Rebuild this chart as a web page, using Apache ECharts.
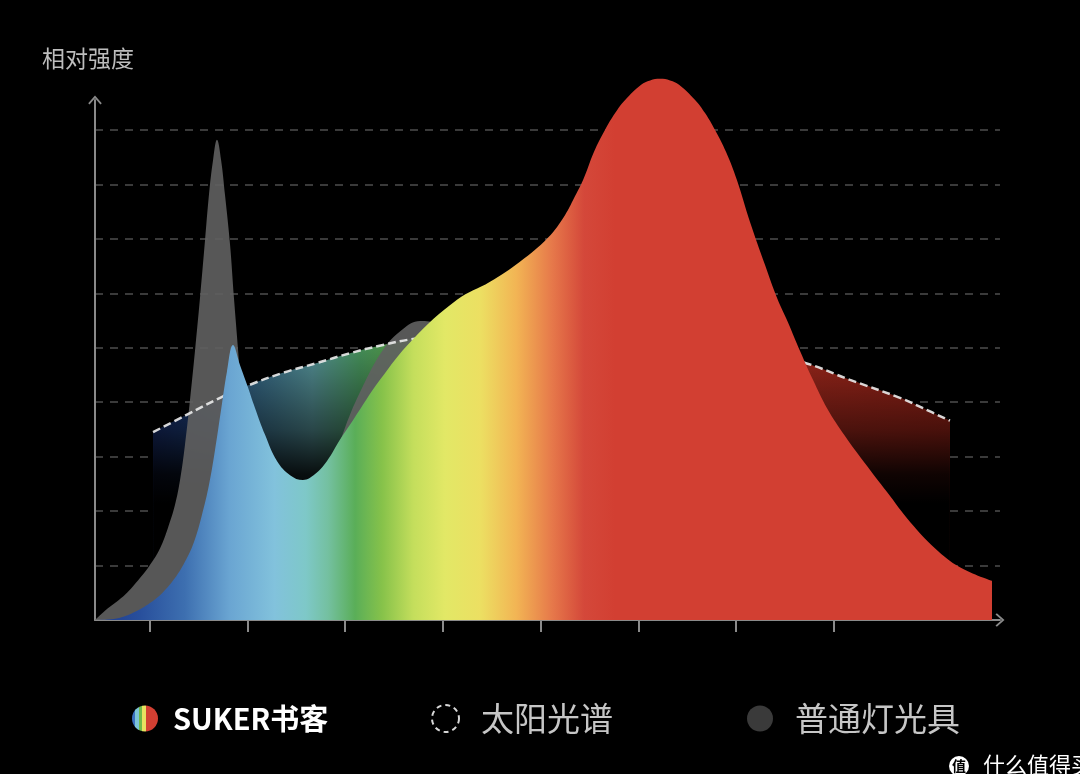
<!DOCTYPE html>
<html>
<head>
<meta charset="utf-8">
<script src="https://cdn.jsdelivr.net/npm/echarts@6/dist/echarts.min.js"></script>
<style>
html,body{margin:0;padding:0;background:#000;}
#chart{width:1080px;height:774px;}
</style>
</head>
<body>
<div id="chart"></div>
<script>
// x: wavelength (nm), y: relative intensity
const tickNm = [400, 450, 500, 550, 600, 650, 700, 750];

const sukerNm  = [372, 378, 384.8, 392.5, 400.1, 406.8, 412.9, 418.0, 422.6, 426.7, 430.3, 433.4, 436.5, 439.5, 442.6, 446.2, 449.8, 453.9, 459.0, 465.1, 471.8, 478.4, 484.6, 490.7, 497.3, 504.0, 517.8, 534.2, 557.2, 574.1, 589.4, 603.7, 612.5, 617.1, 621.7, 627.3, 632.9, 638.1, 643.2, 651.4, 656.0, 661.1, 666.2, 670.8, 679.0, 684.1, 689.2, 694.8, 700.4, 707.1, 714.8, 721.0, 726.5, 732.7, 739.3, 746.5, 755.7, 765.9, 777.2, 789.0, 801.7, 814.5, 830.9];
const sukerVal = [0, 0.01, 0.04, 0.15, 0.31, 0.51, 0.77, 1.07, 1.43, 1.93, 2.48, 3.12, 3.86, 4.56, 5.05, 4.68, 4.32, 3.89, 3.40, 2.92, 2.66, 2.57, 2.68, 2.92, 3.31, 3.67, 4.41, 5.14, 5.88, 6.21, 6.58, 7.02, 7.44, 7.75, 8.08, 8.60, 9.00, 9.31, 9.55, 9.83, 9.91, 9.94, 9.91, 9.83, 9.55, 9.31, 9.00, 8.60, 8.08, 7.31, 6.52, 5.91, 5.47, 4.94, 4.41, 3.89, 3.38, 2.88, 2.35, 1.80, 1.32, 0.97, 0.72];

const sunNm  = [401.7, 418.0, 436.0, 451.3, 468.2, 485.6, 502.5, 519.3, 534.7, 569.0, 609.9, 650.8, 691.8, 733.7, 758.3, 783.8, 795.6, 809.4];
const sunVal = [3.45, 3.75, 4.08, 4.32, 4.54, 4.72, 4.90, 5.05, 5.16, 5.29, 5.36, 5.29, 5.11, 4.74, 4.41, 4.08, 3.89, 3.66];

const grayNm  = [372, 377.1, 382.2, 388.4, 395.0, 400.1, 405.3, 409.3, 412.9, 415.5, 418.0, 420.6, 423.2, 425.7, 428.3, 430.3, 432.4, 434.4, 436.5, 438.5, 441.1, 443.1, 445.2, 447.2, 449.8, 453.9, 461.5, 472.8, 483.5, 492.2, 499.9, 508.6, 519.3, 529.1, 538.3, 547.5, 556.2, 569.0, 594.5, 630.4, 681.5, 732.7, 773.6, 809.4, 830.9];
const grayVal = [0, 0.17, 0.31, 0.50, 0.77, 1.01, 1.32, 1.69, 2.11, 2.57, 3.21, 4.04, 4.96, 5.91, 6.98, 7.81, 8.45, 8.82, 8.45, 7.81, 6.89, 5.91, 4.96, 3.95, 2.94, 2.02, 1.38, 1.18, 1.75, 2.66, 3.53, 4.26, 4.96, 5.33, 5.49, 5.44, 5.24, 4.78, 4.04, 3.49, 2.76, 1.84, 0.92, 0.37, 0.15];

const NAME_SUKER = 'SUKER书客';
const NAME_SUN = '太阳光谱';
const NAME_GRAY = '普通灯光具';

const zip = (xs, ys) => xs.map((x, i) => [x, ys[i]]);
const FONT = 'Noto Sans CJK SC';
const G = echarts.graphic.LinearGradient;

const sukerFill = new G(0, 0, 1, 0, [
  {offset: 0, color: '#1e3a8c'},
  {offset: 0.05, color: '#284f9c'},
  {offset: 0.10, color: '#3d6fb0'},
  {offset: 0.15, color: '#6aa5d2'},
  {offset: 0.20, color: '#82c2dc'},
  {offset: 0.235, color: '#7ec8c8'},
  {offset: 0.26, color: '#74c0a0'},
  {offset: 0.29, color: '#5aae58'},
  {offset: 0.32, color: '#86c24a'},
  {offset: 0.355, color: '#c4de5c'},
  {offset: 0.39, color: '#e2e866'},
  {offset: 0.43, color: '#ecdf62'},
  {offset: 0.47, color: '#f2b454'},
  {offset: 0.51, color: '#e6784a'},
  {offset: 0.545, color: '#d4483a'},
  {offset: 0.58, color: '#d23f32'},
  {offset: 1, color: '#d23f32'}
]);

const sunHue = new G(0, 0, 1, 0, [
  {offset: 0, color: '#1a3278'},
  {offset: 0.08, color: '#24508a'},
  {offset: 0.13, color: '#3a7090'},
  {offset: 0.20, color: '#5a9aa0'},
  {offset: 0.26, color: '#4a9a60'},
  {offset: 0.32, color: '#5aa040'},
  {offset: 0.45, color: '#c0b040'},
  {offset: 0.6, color: '#c04a28'},
  {offset: 0.8, color: '#a82a1e'},
  {offset: 1, color: '#a02418'}
]);

const sunFade = new G(0, 0, 0, 1, [
  {offset: 0, color: 'rgba(0,0,0,0)'},
  {offset: 0.1, color: 'rgba(0,0,0,0.15)'},
  {offset: 0.35, color: 'rgba(0,0,0,0.55)'},
  {offset: 0.5, color: 'rgba(0,0,0,0.9)'},
  {offset: 0.6, color: 'rgba(0,0,0,1)'},
  {offset: 1, color: 'rgba(0,0,0,1)'}
]);

const rainbow = new G(0, 0, 1, 0, [
  {offset: 0, color: '#3a6fc0'}, {offset: 0.13, color: '#3a6fc0'},
  {offset: 0.13, color: '#7cc4d8'}, {offset: 0.27, color: '#7cc4d8'},
  {offset: 0.27, color: '#70b84a'}, {offset: 0.40, color: '#70b84a'},
  {offset: 0.40, color: '#e8e060'}, {offset: 0.53, color: '#e8e060'},
  {offset: 0.53, color: '#d23f32'}, {offset: 1, color: '#d23f32'}
]);

const chevron = 'path://M0,9 L8,0 L16,9 L14.4,10.6 L8,3.2 L1.6,10.6 Z';
const axisColor = '#8a8a8a';

const chart = echarts.init(document.getElementById('chart'));
chart.setOption({
  backgroundColor: '#000',
  animation: false,
  title: {
    text: '相对强度', left: 42, top: 47, padding: 0,
    textStyle: {color: '#bdbdbd', fontSize: 23, fontWeight: 'normal', fontFamily: FONT}
  },
  grid: {left: 95, right: 80, top: 100, bottom: 154},
  xAxis: {
    type: 'value', min: 372, max: 835,
    axisLine: {show: true, symbol: ['none', chevron], symbolSize: [14, 9],
      lineStyle: {color: axisColor, width: 2}},
    axisTick: {show: true, customValues: tickNm, length: 12, inside: false,
      lineStyle: {color: axisColor, width: 2}},
    axisLabel: {show: false},
    splitLine: {show: false}
  },
  yAxis: {
    type: 'value', min: 0, max: 9.55, interval: 1,
    axisLine: {show: true, symbol: ['none', chevron], symbolSize: [14, 9],
      lineStyle: {color: axisColor, width: 2}},
    axisTick: {show: false},
    axisLabel: {show: false},
    splitLine: {show: true, showMinLine: false, showMaxLine: false,
      lineStyle: {color: 'rgba(255,255,255,0.3)', width: 1.5, type: [8, 7]}}
  },
  legend: [
    {
      left: 132, top: 704, padding: 0, selectedMode: false,
      itemWidth: 26, itemHeight: 26, icon: 'circle',
      data: [{name: NAME_SUKER, itemStyle: {color: rainbow, borderWidth: 0}}],
      textStyle: {color: '#ffffff', fontSize: 29, fontWeight: 'bold', fontFamily: FONT, padding: [0, 0, 0, 10]}
    },
    {
      left: 431, top: 702, padding: 0, selectedMode: false,
      itemWidth: 27, itemHeight: 27, icon: 'circle',
      data: [{name: NAME_SUN, itemStyle: {color: 'rgba(0,0,0,0)', borderColor: '#d8d8d8', borderWidth: 2, borderType: [5, 4]}}],
      textStyle: {color: '#c6c6c6', fontSize: 33, fontFamily: FONT, padding: [0, 0, 0, 17]}
    },
    {
      left: 747, top: 702, padding: 0, selectedMode: false,
      itemWidth: 26, itemHeight: 26, icon: 'circle',
      data: [{name: NAME_GRAY, itemStyle: {color: '#3a3a3a', borderWidth: 0}}],
      textStyle: {color: '#c6c6c6', fontSize: 33, fontFamily: FONT, padding: [0, 0, 0, 17]}
    }
  ],
  graphic: [
    {type: 'circle', shape: {cx: 959, cy: 766, r: 10}, style: {fill: '#ffffff'}},
    {type: 'text', x: 959, y: 766, style: {text: '值', fill: '#000', fontSize: 14, fontWeight: 'bold', fontFamily: FONT, align: 'center', verticalAlign: 'middle'}},
    {type: 'text', x: 983, y: 754, style: {text: '什么值得买', fill: '#ffffff', fontSize: 22, fontFamily: FONT}}
  ],
  series: [
    {
      name: NAME_SUN, type: 'line', smooth: 0.4, showSymbol: false, silent: true, clip: false, z: 2,
      data: zip(sunNm, sunVal),
      lineStyle: {width: 0}, itemStyle: {color: '#d8d8d8'},
      areaStyle: {color: sunHue, opacity: 1}
    },
    {
      name: NAME_SUN, type: 'line', smooth: 0.4, showSymbol: false, silent: true, clip: false, z: 2,
      data: zip(sunNm, sunVal),
      lineStyle: {width: 0},
      areaStyle: {color: sunFade, opacity: 1}
    },
    {
      name: NAME_GRAY, type: 'line', smooth: 0.4, showSymbol: false, silent: true, clip: false, z: 2,
      data: zip(grayNm, grayVal),
      lineStyle: {width: 0}, itemStyle: {color: '#3a3a3a'},
      areaStyle: {color: 'rgba(96,96,96,0.9)', opacity: 1}
    },
    {
      name: NAME_SUN, type: 'line', smooth: 0.4, showSymbol: false, silent: true, clip: false, z: 2,
      data: zip(sunNm, sunVal),
      lineStyle: {width: 2.5, color: 'rgba(235,235,235,0.9)', type: [8, 4]}
    },
    {
      name: NAME_SUKER, type: 'line', smooth: 0.4, showSymbol: false, silent: true, clip: false, z: 3,
      data: zip(sukerNm, sukerVal),
      lineStyle: {width: 0}, itemStyle: {color: '#d23f32'},
      areaStyle: {color: sukerFill, opacity: 1}
    }
  ]
});
</script>
</body>
</html>
